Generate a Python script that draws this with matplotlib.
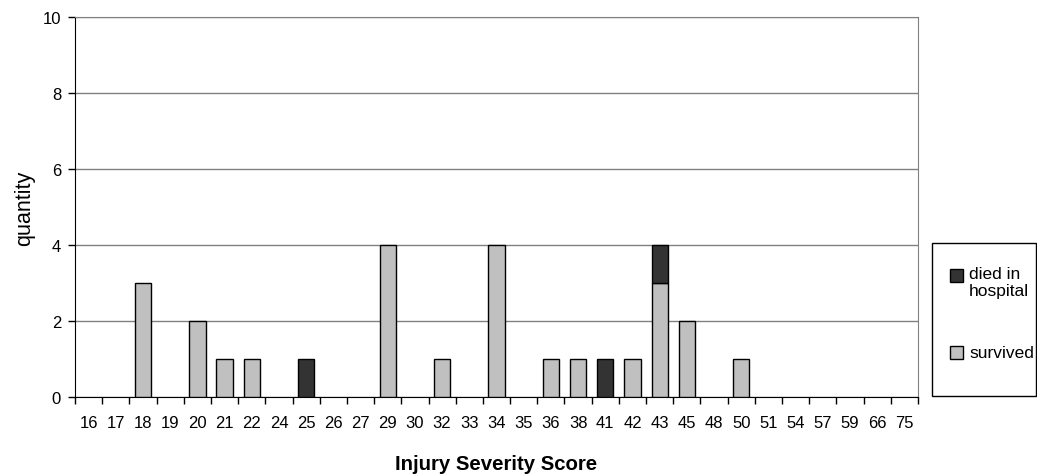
import matplotlib
matplotlib.use('Agg')
import matplotlib.pyplot as plt
from matplotlib.patches import Rectangle
import numpy as np

plt.rcParams['font.family'] = ['Liberation Sans', 'DejaVu Sans']

scores = ['16', '17', '18', '19', '20', '21', '22', '24', '25', '26', '27',
          '29', '30', '32', '33', '34', '35', '36', '38', '41', '42', '43',
          '45', '48', '50', '51', '54', '57', '59', '66', '75']
survived = [0, 0, 3, 0, 2, 1, 1, 0, 0, 0, 0,
            4, 0, 1, 0, 4, 0, 1, 1, 0, 1, 3,
            2, 0, 1, 0, 0, 0, 0, 0, 0]
died = [0, 0, 0, 0, 0, 0, 0, 0, 1, 0, 0,
        0, 0, 0, 0, 0, 0, 0, 0, 1, 0, 1,
        0, 0, 0, 0, 0, 0, 0, 0, 0]

light = '#c0c0c0'
dark = '#333333'
fs = 12
W, H = 1037, 477

fig = plt.figure(figsize=(W / 100, H / 100), dpi=100)
ax = fig.add_axes([75 / W, 1 - 398 / H, 843 / W, 380 / H])

x = np.arange(len(scores))
surv = np.array(survived)
dead = np.array(died)
ax.bar(x[surv > 0], surv[surv > 0], width=0.6, color=light,
       edgecolor='black', linewidth=1, zorder=3)
ax.bar(x[dead > 0], dead[dead > 0], width=0.6, bottom=surv[dead > 0],
       color=dark, edgecolor='black', linewidth=1, zorder=3)

ax.set_xlim(-0.5, len(scores) - 0.5)
ax.set_ylim(0, 10)
ax.set_yticks(range(0, 11, 2))
ax.yaxis.grid(True, color='#808080', linewidth=1)
ax.set_axisbelow(True)

ax.set_xticks(x)
ax.set_xticklabels(scores, fontsize=fs)
ax.tick_params(axis='x', which='major', length=0, pad=13)
ax.set_xticks(np.arange(-0.5, len(scores), 1), minor=True)
ax.tick_params(axis='x', which='minor', length=5, width=1, direction='out')
ax.tick_params(axis='y', length=5, width=1, labelsize=fs, pad=5)

for side in ['top', 'right']:
    ax.spines[side].set_color('#808080')

ax.set_ylabel('quantity', fontsize=15.5)
ax.yaxis.set_label_coords(-(75 - 35) / 843, 0.5)
ax.set_xlabel('Injury Severity Score', fontsize=14.7, fontweight='bold')
ax.xaxis.set_label_coords(0.5, -(455 - 398) / 380)

# legend drawn by hand in figure pixels
def fx(px):
    return px / W

def fy(py):
    return 1 - py / H

fig.patches.append(Rectangle((fx(932), fy(397)), fx(1036) - fx(932),
                             fy(244) - fy(397), transform=fig.transFigure,
                             fill=False, edgecolor='black', linewidth=1))
fig.patches.append(Rectangle((fx(950), fy(283)), 13 / W, 13 / H,
                             transform=fig.transFigure, facecolor=dark,
                             edgecolor='black', linewidth=1))
fig.patches.append(Rectangle((fx(950), fy(360)), 13 / W, 13 / H,
                             transform=fig.transFigure, facecolor=light,
                             edgecolor='black', linewidth=1))
fig.text(fx(969), fy(267), 'died in\nhospital', fontsize=12.5, va='top',
         ha='left', linespacing=1.2)
fig.text(fx(969), fy(354), 'survived', fontsize=12.5, va='center', ha='left')

fig.savefig('out.png', dpi=100)
